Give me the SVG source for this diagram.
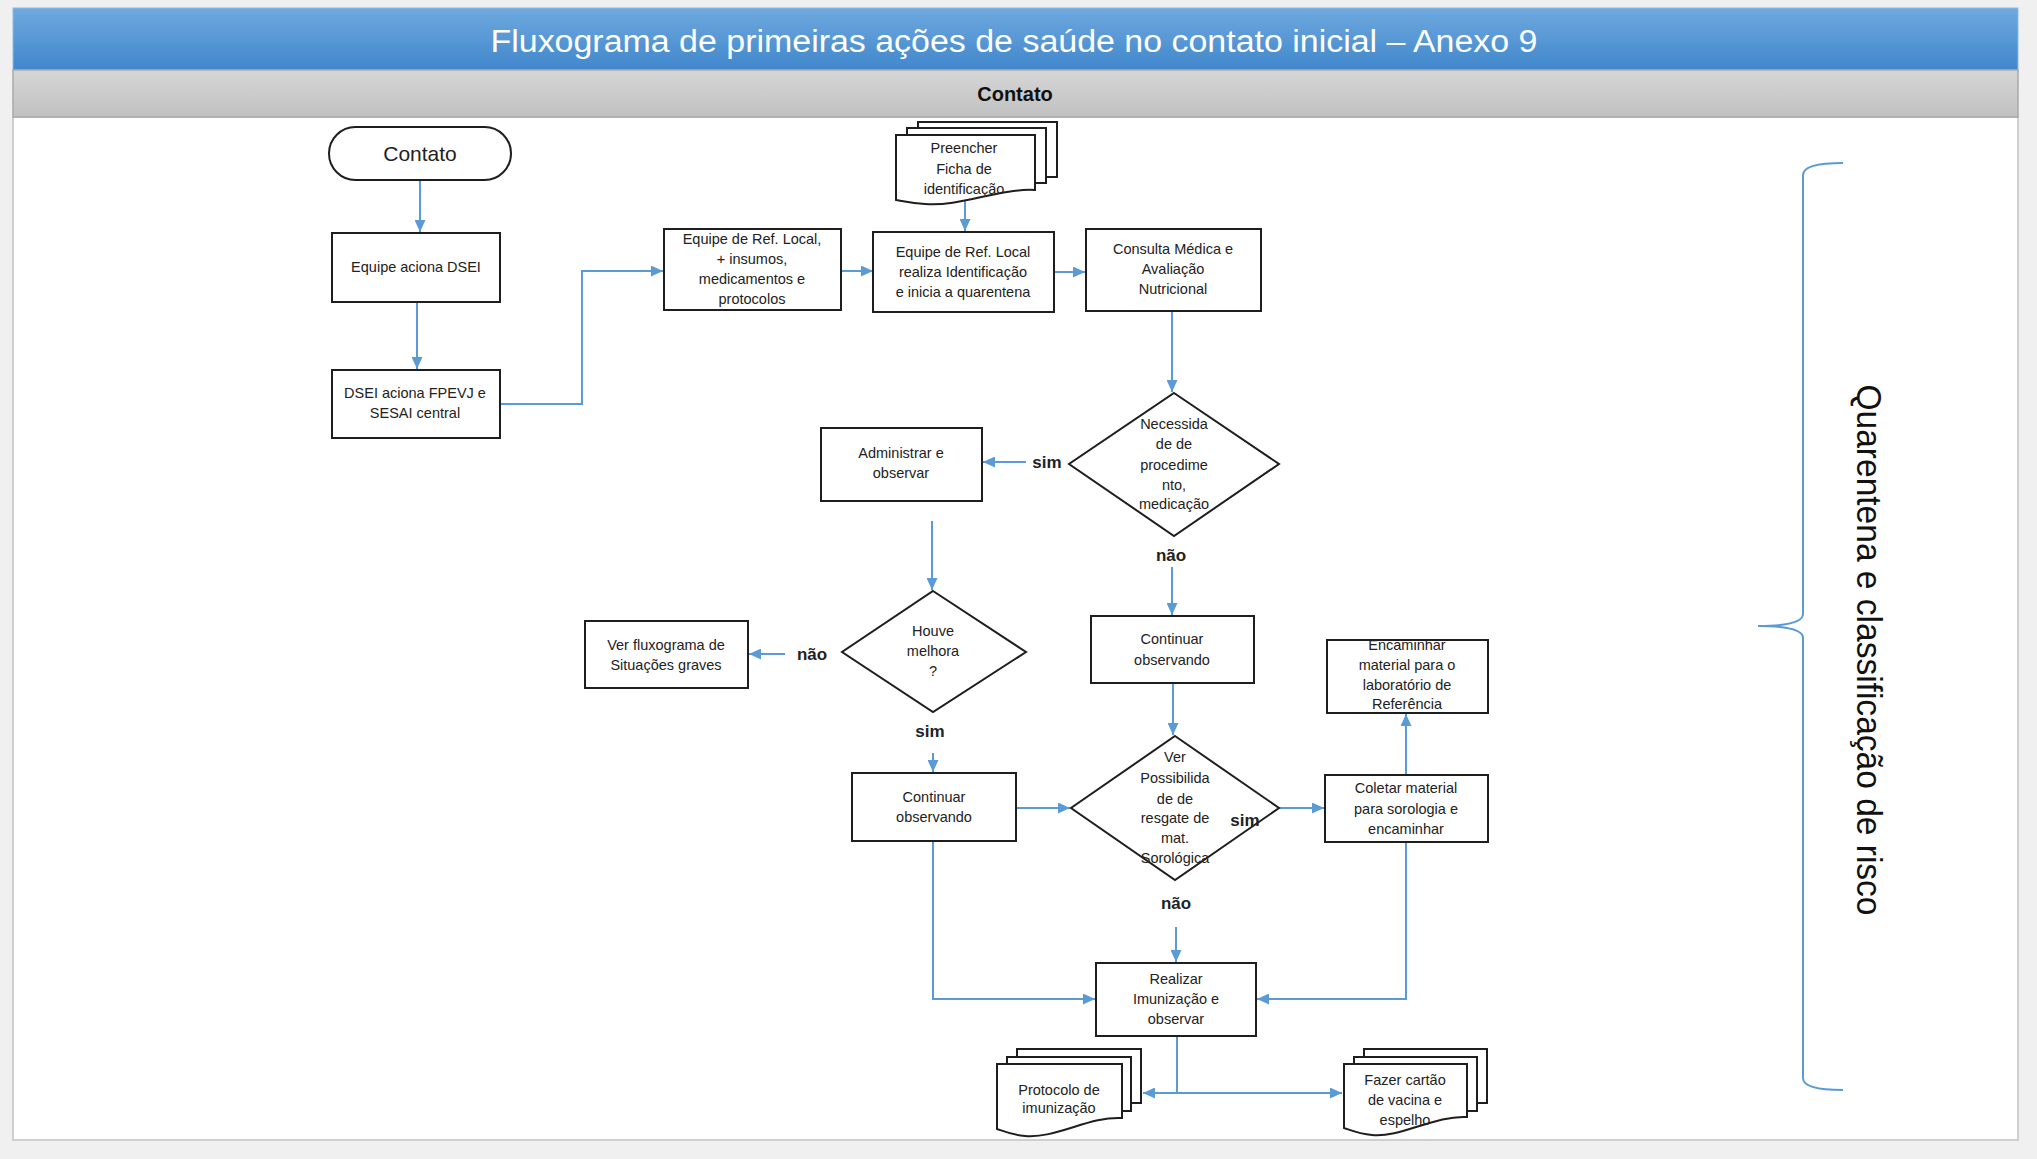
<svg xmlns="http://www.w3.org/2000/svg" width="2037" height="1159" viewBox="0 0 2037 1159">
<defs>
<linearGradient id="gTitle" x1="0" y1="0" x2="0" y2="1"><stop offset="0" stop-color="#6fa9df"/><stop offset="1" stop-color="#4087cb"/></linearGradient>
<linearGradient id="gBar" x1="0" y1="0" x2="0" y2="1"><stop offset="0" stop-color="#d6d6d6"/><stop offset="1" stop-color="#c1c1c1"/></linearGradient>
<marker id="arr" markerUnits="userSpaceOnUse" markerWidth="12" markerHeight="11" refX="12" refY="5.5" orient="auto"><path d="M0,0 L12,5.5 L0,11 z" fill="#5b9bd5"/></marker>
</defs>
<style>
.box{fill:#fff;stroke:#1e1e1e;stroke-width:2}
.doc{fill:#fff;stroke:#1e1e1e;stroke-width:2}
.t{font-family:"Liberation Sans",Arial,sans-serif;font-size:14.5px;fill:#222;text-anchor:middle}
.lbl{font-family:"Liberation Sans",Arial,sans-serif;font-size:17px;font-weight:bold;fill:#222;text-anchor:middle}
.c{fill:none;stroke:#5b9bd5;stroke-width:2}
.ca{fill:none;stroke:#5b9bd5;stroke-width:2;marker-end:url(#arr)}
</style>
<rect x="0" y="0" width="2037" height="1159" fill="#f0f0f0"/>
<rect x="13" y="117" width="2005" height="1023" fill="#fff" stroke="#cfcfcf" stroke-width="2"/>
<g id="header">
<rect x="13" y="8" width="2005" height="62" fill="url(#gTitle)" stroke="#8cbbe6" stroke-width="1"/>
<text x="1014" y="52" font-family="Liberation Sans,Arial,sans-serif" font-size="31" fill="#fff" text-anchor="middle" textLength="1047" lengthAdjust="spacingAndGlyphs">Fluxograma de primeiras ações de saúde no contato inicial – Anexo 9</text>
<rect x="13" y="70" width="2005" height="47" fill="url(#gBar)" stroke="#a9a9a9" stroke-width="1.5"/>
<text x="1015" y="101" font-family="Liberation Sans,Arial,sans-serif" font-size="20" font-weight="bold" fill="#111" text-anchor="middle">Contato</text>
</g>

<g id="connectors">
<path class="ca" d="M420,180 V232"/>
<path class="ca" d="M417,302 V369"/>
<path class="ca" d="M500,404 H582 V271 H663"/>
<path class="ca" d="M841,271 H873"/>
<path class="ca" d="M965,201 V231"/>
<path class="ca" d="M1054,272 H1085"/>
<path class="ca" d="M1172,311 V392"/>
<path class="ca" d="M1026,462 H983"/>
<path class="ca" d="M932,521 V590"/>
<path class="ca" d="M1172,567 V615"/>
<path class="ca" d="M785,654 H749"/>
<path class="ca" d="M933,753 V772"/>
<path class="ca" d="M1173,683 V735"/>
<path class="ca" d="M1016,808 H1070"/>
<path class="ca" d="M1279,808 H1324"/>
<path class="ca" d="M1406,775 V714"/>
<path class="ca" d="M1176,927 V962"/>
<path class="ca" d="M933,841 V999 H1095"/>
<path class="ca" d="M1406,842 V999 H1257"/>
<path class="c" d="M1177,1036 V1093"/>
<path class="ca" d="M1177,1093 H1143"/>
<path class="ca" d="M1177,1093 H1342"/>
</g>

<g id="n-contato">
<rect class="box" x="329" y="127" width="182" height="53" rx="26.5"/>
<text x="420" y="161" font-family="Liberation Sans,Arial,sans-serif" font-size="21" fill="#222" text-anchor="middle">Contato</text>
</g>
<g id="n-equipe-aciona">
<rect class="box" x="332" y="233" width="168" height="69"/>
<text class="t" x="416" y="272">Equipe aciona DSEI</text>
</g>
<g id="n-dsei-aciona">
<rect class="box" x="332" y="370" width="168" height="68"/>
<text class="t" x="415" y="398">DSEI aciona FPEVJ e</text>
<text class="t" x="415" y="418">SESAI central</text>
</g>
<g id="n-equipe-insumos">
<rect class="box" x="664" y="229" width="177" height="81"/>
<text class="t" x="752" y="244">Equipe de  Ref. Local,</text>
<text class="t" x="752" y="264">+ insumos,</text>
<text class="t" x="752" y="284">medicamentos e</text>
<text class="t" x="752" y="304">protocolos</text>
</g>
<g id="n-preencher">
<rect class="doc" x="918" y="122" width="139" height="55"/>
<rect class="doc" x="907" y="128" width="139" height="55"/>
<path class="doc" d="M896,135 H1035 V190 C1000,188 960,207 925,204 C910,203 902,201 896,200 Z"/>
<text class="t" x="964" y="153">Preencher</text>
<text class="t" x="964" y="174">Ficha de</text>
<text class="t" x="964" y="194">identificação</text>
</g>
<g id="n-equipe-identificacao">
<rect class="box" x="873" y="232" width="181" height="80"/>
<text class="t" x="963" y="257">Equipe de Ref. Local</text>
<text class="t" x="963" y="277">realiza Identificação</text>
<text class="t" x="963" y="297">e inicia a quarentena</text>
</g>
<g id="n-consulta">
<rect class="box" x="1086" y="229" width="175" height="82"/>
<text class="t" x="1173" y="254">Consulta Médica e</text>
<text class="t" x="1173" y="274">Avaliação</text>
<text class="t" x="1173" y="294">Nutricional</text>
</g>
<g id="n-necessidade">
<polygon class="box" points="1174,393 1279,464 1174,536 1069,464"/>
<text class="t" x="1174" y="429">Necessida</text>
<text class="t" x="1174" y="449">de de</text>
<text class="t" x="1174" y="470">procedime</text>
<text class="t" x="1174" y="490">nto,</text>
<text class="t" x="1174" y="509">medicação</text>
</g>
<g id="n-administrar">
<rect class="box" x="821" y="428" width="161" height="73"/>
<text class="t" x="901" y="458">Administrar e</text>
<text class="t" x="901" y="478">observar</text>
</g>
<g id="n-houve">
<polygon class="box" points="933,591 1026,652 933,712 842,652"/>
<text class="t" x="933" y="636">Houve</text>
<text class="t" x="933" y="656">melhora</text>
<text class="t" x="933" y="676">?</text>
</g>
<g id="n-ver-fluxograma">
<rect class="box" x="585" y="621" width="163" height="67"/>
<text class="t" x="666" y="650">Ver fluxograma de</text>
<text class="t" x="666" y="670">Situações graves</text>
</g>
<g id="n-continuar-direita">
<rect class="box" x="1091" y="616" width="163" height="67"/>
<text class="t" x="1172" y="644">Continuar</text>
<text class="t" x="1172" y="665">observando</text>
</g>
<g id="n-continuar-esquerda">
<rect class="box" x="852" y="773" width="164" height="68"/>
<text class="t" x="934" y="802">Continuar</text>
<text class="t" x="934" y="822">observando</text>
</g>
<g id="n-ver-possibilidade">
<polygon class="box" points="1175,736 1279,808 1175,880 1071,808"/>
<text class="t" x="1175" y="762">Ver</text>
<text class="t" x="1175" y="783">Possibilida</text>
<text class="t" x="1175" y="804">de de</text>
<text class="t" x="1175" y="823">resgate de</text>
<text class="t" x="1175" y="843">mat.</text>
<text class="t" x="1175" y="863">Sorológica</text>
</g>
<g id="n-coletar">
<rect class="box" x="1325" y="775" width="163" height="67"/>
<text class="t" x="1406" y="793">Coletar material</text>
<text class="t" x="1406" y="814">para sorologia e</text>
<text class="t" x="1406" y="834">encaminhar</text>
</g>
<g id="n-encaminhar">
<rect class="box" x="1327" y="640" width="161" height="73"/>
<text class="t" x="1407" y="650">Encaminhar</text>
<text class="t" x="1407" y="670">material para o</text>
<text class="t" x="1407" y="690">laboratório de</text>
<text class="t" x="1407" y="709">Referência</text>
</g>
<g id="n-realizar">
<rect class="box" x="1096" y="963" width="160" height="73"/>
<text class="t" x="1176" y="984">Realizar</text>
<text class="t" x="1176" y="1004">Imunização e</text>
<text class="t" x="1176" y="1024">observar</text>
</g>
<g id="n-protocolo">
<rect class="doc" x="1017" y="1049" width="124" height="54"/>
<rect class="doc" x="1007" y="1057" width="124" height="54"/>
<path class="doc" d="M997,1064 H1122 V1118 C1090,1116 1055,1139 1025,1136 C1012,1135 1003,1131 997,1129 Z"/>
<text class="t" x="1059" y="1095">Protocolo de</text>
<text class="t" x="1059" y="1113">imunização</text>
</g>
<g id="n-fazer-cartao">
<rect class="doc" x="1364" y="1049" width="123" height="54"/>
<rect class="doc" x="1354" y="1057" width="123" height="54"/>
<path class="doc" d="M1344,1064 H1467 V1117 C1435,1115 1400,1138 1372,1135 C1359,1134 1350,1130 1344,1128 Z"/>
<text class="t" x="1405" y="1085">Fazer cartão</text>
<text class="t" x="1405" y="1105">de vacina e</text>
<text class="t" x="1405" y="1125">espelho</text>
</g>

<g id="labels">
<text class="lbl" x="1047" y="468">sim</text>
<text class="lbl" x="1171" y="561">não</text>
<text class="lbl" x="812" y="660">não</text>
<text class="lbl" x="930" y="737">sim</text>
<text class="lbl" x="1245" y="826">sim</text>
<text class="lbl" x="1176" y="909">não</text>
</g>

<g id="brace">
<path d="M1843,163 Q1803,163 1803,175 V614 Q1803,626 1758,626 Q1803,626 1803,638 V1078 Q1803,1090 1843,1090" fill="none" stroke="#5b9bd5" stroke-width="2"/>
<text transform="translate(1857,650) rotate(90)" x="0" y="0" font-family="Liberation Sans,Arial,sans-serif" font-size="35" fill="#111" text-anchor="middle" textLength="531" lengthAdjust="spacingAndGlyphs">Quarentena e classificação de risco</text>
</g>
</svg>
